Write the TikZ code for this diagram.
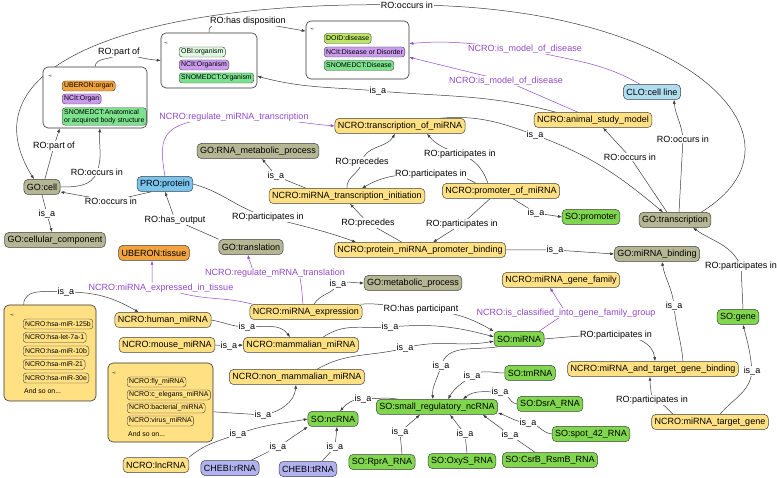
\documentclass[tikz,border=0pt]{standalone}
\usepackage{fontspec}
\setmainfont{Liberation Sans}
\usetikzlibrary{arrows.meta,backgrounds}

\definecolor{ncroy}{RGB}{255,224,130}
\definecolor{goo}{RGB}{180,182,148}
\definecolor{sog}{RGB}{128,214,76}
\definecolor{ubo}{RGB}{242,164,62}
\definecolor{ncitp}{RGB}{204,156,238}
\definecolor{snog}{RGB}{124,226,142}
\definecolor{obig}{RGB}{222,250,222}
\definecolor{doidg}{RGB}{188,230,100}
\definecolor{prob}{RGB}{122,196,238}
\definecolor{clob}{RGB}{176,222,240}
\definecolor{chebl}{RGB}{178,178,240}
\definecolor{relp}{RGB}{148,72,200}
\definecolor{edgeg}{RGB}{60,60,60}

\tikzset{
  onto/.style={x=1pt,y=-1pt,font=\fontsize{9}{10}\selectfont},
  term/.style={draw=black!75,line width=0.5pt,rounded corners=4pt,inner xsep=3pt,inner ysep=0pt,minimum height=15pt},
  ncro/.style={term,fill=ncroy},
  goterm/.style={term,fill=goo},
  soterm/.style={term,fill=sog},
  item/.style={draw=black!75,line width=0.4pt,rounded corners=3pt,inner xsep=2pt,inner ysep=0pt,minimum height=10pt,font=\fontsize{6.9}{8}\selectfont,anchor=west},
  grp/.style={draw=black!80,line width=0.6pt,rounded corners=5pt,fill=white},
  info/.style={font=\fontsize{4}{4}\selectfont,inner sep=0pt},
  andso/.style={font=\fontsize{6.9}{8}\selectfont,anchor=west,inner sep=0pt},
  lbl/.style={fill=white,inner sep=0.5pt},
  plbl/.style={lbl,text=relp},
  isa/.style={draw=edgeg,line width=0.5pt,-{Latex[length=4pt,width=3pt]}},
  rel/.style={isa,draw=relp},
}

\begin{document}
\begin{tikzpicture}[onto]
  \useasboundingbox (0,0) rectangle (777,478);

  % grouped terms
  \node[grp,minimum width=104pt,minimum height=61pt] (organbox) at (95,97.5) {};
  \node[info] (organi) at (50,76) {\textbullet\,i};
  \node[item,fill=ubo] (organ1) at (62,86) {UBERON:organ};
  \node[item,fill=ncitp] (organ2) at (62,99) {NCIt:Organ};
  \node[item,fill=snog,align=left,inner ysep=1.5pt] (organ3) at (62,116.5) {SNOMEDCT:Anatomical\\or acquired body structure};

  \node[grp,minimum width=96pt,minimum height=55pt] (orgbox) at (209,60.5) {};
  \node[info] (orgi) at (166,43) {\textbullet\,i};
  \node[item,fill=obig] (org1) at (179,52) {OBI:organism};
  \node[item,fill=ncitp] (org2) at (179,65) {NCIt:Organism};
  \node[item,fill=snog] (org3) at (179,78) {SNOMEDCT:Organism};

  \node[grp,minimum width=103pt,minimum height=58pt] (disbox) at (357.5,50) {};
  \node[info] (disi) at (312,29) {\textbullet\,i};
  \node[item,fill=doidg] (dis1) at (324,38.5) {DOID:disease};
  \node[item,fill=ncitp] (dis2) at (324,52) {NCIt:Disease or Disorder};
  \node[item,fill=snog] (dis3) at (324,65.5) {SNOMEDCT:Disease};

  \node[grp,fill=ncroy,minimum width=92pt,minimum height=96pt] (hsabox) at (50,353) {};
  \node[info] (hsai) at (12,315) {\textbullet\,i};
  \foreach \t [count=\i] in {miR-125b,let-7a-1,miR-10b,miR-21,miR-30e}
    \node[item,fill=ncroy] (hsa\i) at (23,{310.5+13.5*\i}) {NCRO:hsa-\t};
  \node[andso] (hsamore) at (24,391) {And so on...};

  \node[grp,fill=ncroy,minimum width=105pt,minimum height=79pt] (flybox) at (160.5,402.5) {};
  \node[info] (flyi) at (114,373) {\textbullet\,i};
  \foreach \t [count=\i] in {fly,c\_elegans,bacterial,virus}
    \node[item,fill=ncroy] (fly\i) at (127,{369+13*\i}) {NCRO:\t\_miRNA};
  \node[andso] (flymore) at (128,434) {And so on...};

  % terms
  \node[goterm] (cell) at (42,187) {GO:cell};
  \node[goterm] (cc) at (55,240) {GO:cellular\_component};
  \node[term,fill=prob] (pro) at (165,184) {PRO:protein};
  \node[goterm] (rmp) at (258,151) {GO:RNA\_metabolic\_process};
  \node[ncro] (tom) at (400,126) {NCRO:transcription\_of\_miRNA};
  \node[ncro] (tin) at (347,196) {NCRO:miRNA\_transcription\_initiation};
  \node[ncro] (prm) at (501,191) {NCRO:promoter\_of\_miRNA};
  \node[soterm] (prom) at (591,217) {SO:promoter};
  \node[goterm] (tsc) at (675,220) {GO:transcription};
  \node[ncro] (asm) at (593,120) {NCRO:animal\_study\_model};
  \node[term,fill=clob] (clo) at (652,92) {CLO:cell line};
  \node[goterm] (trl) at (251,247) {GO:translation};
  \node[ncro] (pmb) at (420,250) {NCRO:protein\_miRNA\_promoter\_binding};
  \node[goterm] (mb) at (657,254) {GO:miRNA\_binding};
  \node[term,fill=ubo] (tissue) at (154,253) {UBERON:tissue};
  \node[goterm] (mp) at (413,283) {GO:metabolic\_process};
  \node[ncro] (gfam) at (561,280) {NCRO:miRNA\_gene\_family};
  \node[soterm] (gene) at (738,317) {SO:gene};
  \node[ncro] (expr) at (306,312) {NCRO:miRNA\_expression};
  \node[ncro] (human) at (163,320) {NCRO:human\_miRNA};
  \node[ncro] (mouse) at (167,345) {NCRO:mouse\_miRNA};
  \node[ncro] (mamm) at (301,345) {NCRO:mammalian\_miRNA};
  \node[ncro] (nonm) at (297,377) {NCRO:non\_mammalian\_miRNA};
  \node[soterm] (mirna) at (519,339) {SO:miRNA};
  \node[ncro] (tgb) at (653,369) {NCRO:miRNA\_and\_target\_gene\_binding};
  \node[ncro] (tgene) at (710,422) {NCRO:miRNA\_target\_gene};
  \node[soterm] (tm) at (530,373) {SO:tmRNA};
  \node[soterm] (dsra) at (550,404) {SO:DsrA\_RNA};
  \node[soterm] (srn) at (437,407) {SO:small\_regulatory\_ncRNA};
  \node[soterm] (nc) at (333,419) {SO:ncRNA};
  \node[soterm] (spot) at (591,434) {SO:spot\_42\_RNA};
  \node[soterm] (rpra) at (382,462) {SO:RprA\_RNA};
  \node[soterm] (oxys) at (462,461) {SO:OxyS\_RNA};
  \node[soterm] (csrb) at (550,460) {SO:CsrB\_RsmB\_RNA};
  \node[ncro] (lnc) at (156,465) {NCRO:lncRNA};
  \node[term,fill=chebl] (rrna) at (230,468) {CHEBI:rRNA};
  \node[term,fill=chebl] (trna) at (308,469) {CHEBI:tRNA};

  % relation labels
  \node[lbl] (l1) at (407,5) {RO:occurs in};
  \node[lbl] (l2) at (248,21) {RO:has disposition};
  \node[lbl] (l3) at (119,52) {RO:part of};
  \node[lbl] (l4) at (54,146) {RO:part of};
  \node[lbl] (l5) at (97,172) {RO:occurs in};
  \node[lbl] (l6) at (111,201) {RO:occurs in};
  \node[lbl] (l7) at (47,214) {is\_a};
  \node[plbl] (l8) at (234,117) {NCRO:regulate\_miRNA\_transcription};
  \node[lbl] (l9) at (175,220) {RO:has\_output};
  \node[lbl] (l10) at (268,217) {RO:participates in};
  \node[lbl] (l11) at (276,176) {is\_a};
  \node[lbl] (l12) at (362,162) {RO:precedes};
  \node[lbl] (l13) at (460,154) {RO:participates in};
  \node[lbl] (l14) at (431,174) {RO:participates in};
  \node[lbl] (l15) at (368,223) {RO:precedes};
  \node[lbl] (l16) at (462,224) {RO:participates in};
  \node[lbl] (l17) at (536,213) {is\_a};
  \node[lbl] (l18) at (555,250) {is\_a};
  \node[lbl] (l19) at (535,135) {is\_a};
  \node[lbl] (l20) at (378,91) {is\_a};
  \node[plbl] (l21) at (525,49) {NCRO:is\_model\_of\_disease};
  \node[plbl] (l22) at (506,81) {NCRO:is\_model\_of\_disease};
  \node[lbl] (l23) at (630,157) {RO:occurs in};
  \node[lbl] (l24) at (683,139) {RO:occurs in};
  \node[lbl] (l25) at (741,266) {RO:participates in};
  \node[lbl] (l26) at (674,306) {is\_a};
  \node[lbl] (l27) at (616,335) {RO:participates in};
  \node[lbl] (l28) at (652,400) {RO:participates in};
  \node[lbl] (l29) at (752,371) {is\_a};
  \node[plbl] (l30) at (566,313) {NCRO:is\_classified\_into\_gene\_family\_group};
  \node[plbl] (l31) at (275,273) {NCRO:regulate\_mRNA\_translation};
  \node[plbl] (l32) at (161,288) {NCRO:miRNA\_expressed\_in\_tissue};
  \node[lbl] (l33) at (338,284) {is\_a};
  \node[lbl] (l34) at (421,309) {RO:has participant};
  \node[lbl] (l35) at (247,327) {is\_a};
  \node[lbl] (l36) at (229,346) {is\_a};
  \node[lbl] (l37) at (390,327) {is\_a};
  \node[lbl] (l38) at (405,348) {is\_a};
  \node[lbl] (l39) at (66,292) {is\_a};
  \node[lbl] (l40) at (263,415) {is\_a};
  \node[lbl] (l41) at (238,434) {is\_a};
  \node[lbl] (l42) at (278,447) {is\_a};
  \node[lbl] (l43) at (335,447) {is\_a};
  \node[lbl] (l44) at (363,399) {is\_a};
  \node[lbl] (l45) at (441,366) {is\_a};
  \node[lbl] (l46) at (472,376) {is\_a};
  \node[lbl] (l47) at (500,392) {is\_a};
  \node[lbl] (l48) at (528,423) {is\_a};
  \node[lbl] (l49) at (510,435) {is\_a};
  \node[lbl] (l50) at (465,434) {is\_a};
  \node[lbl] (l51) at (400,432) {is\_a};

  \begin{scope}[on background layer]
    % long arc over the top
    \draw[isa] ([xshift=-10pt]tsc.north east) .. controls (820,140) and (690,5) .. (l1.center)
      .. controls (150,0) and (-40,60) .. ([xshift=-8pt]cell.north);
    \draw[isa] (orgbox.north) to[out=95,in=-150] (l2.center) to[out=-10,in=170] (disbox.160);
    \draw[isa] (organbox.north) to[out=85,in=-120] (l3.center) to[out=-15,in=175] (orgbox.west);
    \draw[isa] (cell.70) -- (l4.center) -- ([xshift=17pt]organbox.south west);
    \draw[isa] (cell.east) to[out=0,in=-110] (l5.center) to[out=70,in=-95] ([xshift=5pt]organbox.south);
    \draw[isa] (pro.-150) -- (l6.center) -- (cell.-15);
    \draw[isa] (cell.south) -- (l7.center) -- ([xshift=-3pt]cc.north);
    \draw[rel] (pro.north) .. controls (158,135) and (160,120) .. (l8.center) to[out=0,in=175] (tom.west);
    \draw[isa] (trl.north west) -- (l9.center) -- (pro.south);
    \draw[isa] (pro.east) to[out=-15,in=165] (l10.center) to[out=-15,in=160] ([xshift=22pt]pmb.north west);
    \draw[isa] ([xshift=37pt]tin.north west) -- (l11.center) -- ([xshift=4pt]rmp.south);
    \draw[isa] (tin.north) to[out=95,in=-100] (l12.center) to[out=80,in=-120] ([xshift=-5pt]tom.south);
    \draw[isa] ([xshift=-13pt]prm.north) to[out=110,in=-20] (l13.center) to[out=160,in=-50] ([xshift=27pt]tom.south);
    \draw[isa] ([xshift=-25pt]prm.north) to[out=150,in=0] (l14.center) to[out=180,in=30] ([xshift=15pt]tin.north);
    \draw[isa] ([xshift=-18pt]pmb.north) -- (l15.center) -- ([xshift=3pt]tin.south);
    \draw[isa] ([xshift=-11pt]prm.south) -- (l16.center) -- ([xshift=13pt]pmb.north);
    \draw[isa] ([xshift=12pt]prm.south) -- (l17.center) -- (prom.west);
    \draw[isa] (pmb.east) -- (l18.center) -- (mb.west);
    \draw[isa] ([xshift=40pt]tom.north) to[out=5,in=160] (l19.center) to[out=-20,in=140] ([xshift=-12pt]tsc.north);
    \draw[isa] ([xshift=22pt]asm.north west) to[out=165,in=-5] (l20.center) to[out=175,in=-15] (orgbox.-18);
    \draw[rel] ([xshift=-12pt]clo.north) to[out=150,in=-15] (l21.center) to[out=175,in=5] (disbox.7);
    \draw[rel] ([xshift=-15pt]asm.north) -- (l22.center) -- (disbox.-8);
    \draw[isa] ([xshift=-8pt]tsc.north) -- (l23.center) -- ([xshift=10pt]asm.south);
    \draw[isa] ([xshift=4pt]tsc.north) -- (l24.center) to[out=95,in=-85] ([xshift=22pt]clo.south);
    \draw[isa] ([xshift=5pt]gene.north) -- (l25.center) to[out=115,in=-35] ([xshift=18pt]tsc.south);
    \draw[isa] ([xshift=30pt]tgb.north) to[out=95,in=-85] (l26.center) to[out=95,in=-80] ([xshift=5pt]mb.south);
    \draw[isa] (mirna.east) to[out=5,in=180] (l27.center) to[out=0,in=95] ([xshift=2pt]tgb.north);
    \draw[isa] ([xshift=-37pt]tgene.north) to[out=135,in=-10] (l28.center) to[out=95,in=-90] ([xshift=-3pt]tgb.south);
    \draw[isa] ([xshift=10pt]tgene.north) to[out=50,in=-95] (l29.center) to[out=95,in=-75] ([xshift=5pt]gene.south);
    \draw[rel] ([xshift=20pt]mirna.north) -- (l30.center) -- ([xshift=-11pt]gfam.south);
    \draw[rel] ([xshift=-3pt]expr.north) to[out=95,in=-80] ([xshift=25pt]l31.south)
      ([xshift=-23pt]l31.north) to[out=100,in=-80] ([xshift=-3pt]trl.south);
    \draw[rel] ([xshift=3pt]expr.north west) to[out=165,in=-15] ([xshift=19pt]l32.south)
      ([xshift=-9pt]l32.north) to[out=90,in=-90] ([xshift=-2pt]tissue.south);
    \draw[isa] ([xshift=8pt]expr.north) to[out=60,in=-120] (l33.center) to[out=20,in=180] (mp.west);
    \draw[isa] ([xshift=-2pt]expr.north east) to[out=5,in=180] (l34.center) to[out=-5,in=150] (mirna.north west);
    \draw[isa] (human.east) to[out=-10,in=180] (l35.center) to[out=0,in=125] ([xshift=-11pt]mamm.north);
    \draw[isa] (mouse.east) -- (l36.center) -- (mamm.west);
    \draw[isa] ([xshift=22pt]mamm.north) to[out=35,in=185] (l37.center) to[out=5,in=165] (mirna.175);
    \draw[isa] ([xshift=20pt]nonm.north) to[out=30,in=195] (l38.center) to[out=15,in=190] (mirna.-175);
    \draw[isa] ([xshift=20pt]hsabox.north west) to[out=90,in=180] (l39.center) to[out=0,in=150] ([xshift=24pt]human.north west);
    \draw[isa] (flybox.-10) -- (l40.center) to[out=10,in=-95] ([xshift=-1pt]nonm.south);
    \draw[isa] (lnc.north east) to[out=40,in=200] (l41.center) to[out=20,in=190] (nc.west);
    \draw[isa] ([xshift=-8pt]rrna.north east) -- (l42.center) -- (nc.south west);
    \draw[isa] ([xshift=14pt]trna.north) -- (l43.center) -- ([xshift=4pt]nc.south);
    \draw[isa] ([xshift=22pt]srn.north west) to[out=170,in=0] (l44.center) to[out=180,in=50] ([xshift=7pt]nc.north);
    \draw[isa] (mirna.-160) to[out=190,in=75] (l45.center) to[out=-105,in=95] ([xshift=-4pt]srn.north);
    \draw[isa] (tm.west) to[out=180,in=35] (l46.center) to[out=-145,in=60] ([xshift=11pt]srn.north);
    \draw[isa] (dsra.west) to[out=175,in=0] (l47.center) to[out=180,in=40] ([xshift=26pt]srn.north);
    \draw[isa] (spot.west) to[out=175,in=0] (l48.center) to[out=175,in=-20] ([yshift=2pt]srn.south east);
    \draw[isa] ([xshift=-15pt]csrb.north) -- (l49.center) -- ([xshift=-15pt]srn.south east);
    \draw[isa] ([xshift=5pt]oxys.north) -- (l50.center) -- ([xshift=13pt]srn.south);
    \draw[isa] ([xshift=20pt]rpra.north) -- (l51.center) -- ([xshift=-17pt]srn.south);
  \end{scope}
\end{tikzpicture}
\end{document}
